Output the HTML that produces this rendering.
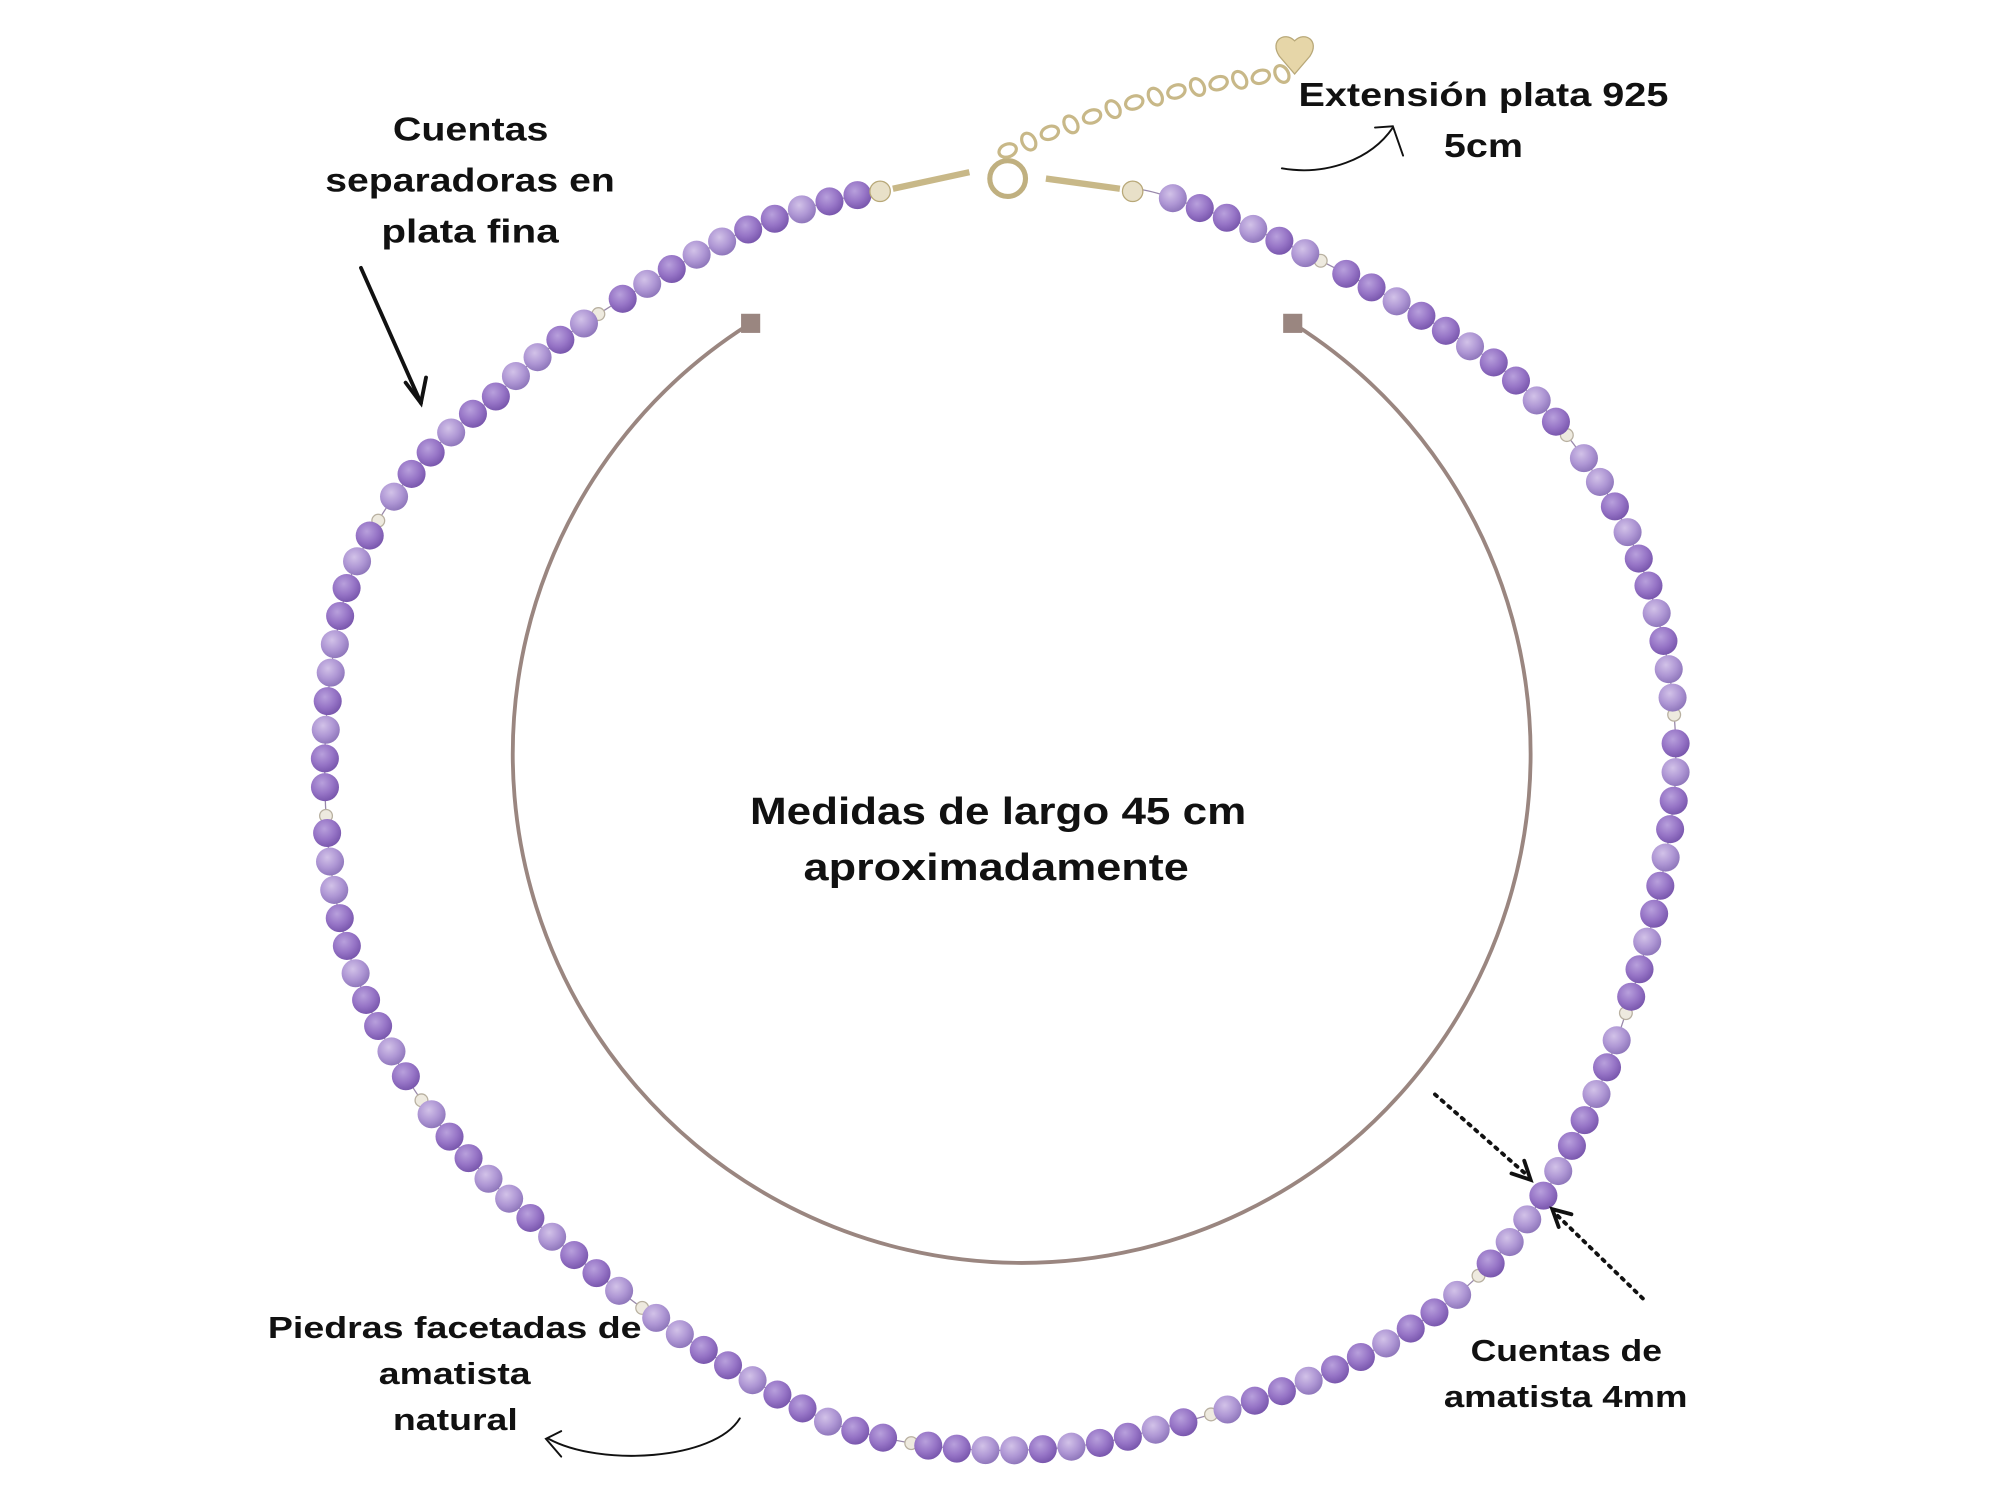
<!DOCTYPE html>
<html><head><meta charset="utf-8"><style>
html,body{margin:0;padding:0;background:#fff;width:2000px;height:1500px;overflow:hidden}
svg{display:block}
text{font-family:"Liberation Sans","DejaVu Sans",sans-serif;font-weight:bold;fill:#111}
</style></head><body>
<svg id="s" width="2000" height="1500" viewBox="0 0 1568 1176" preserveAspectRatio="none" xmlns="http://www.w3.org/2000/svg">
<defs>
<radialGradient id="bg" cx="40%" cy="35%" r="65%">
<stop offset="0" stop-color="#b8a0dc"/><stop offset="0.6" stop-color="#9674c6"/><stop offset="1" stop-color="#7a58ae"/>
</radialGradient>
<radialGradient id="bg2" cx="40%" cy="35%" r="65%">
<stop offset="0" stop-color="#d2c2e8"/><stop offset="0.6" stop-color="#ae96d4"/><stop offset="1" stop-color="#9078bc"/>
</radialGradient>
</defs>
<path d="M586,255 A399,399 0 1,0 1016,255" fill="none" stroke="#9a8680" stroke-width="3"/>
<rect x="581" y="246" width="15" height="15" fill="#9a8680"/>
<rect x="1006" y="246" width="15" height="15" fill="#9a8680"/>
<path id="chain" d="M690,150 C620,160 560,190 520,215 C470,245 420,275 390,310 C340,345 295,395 272,460 C254,530 252,600 257,660 C265,740 285,790 322,850 C360,910 420,960 470,1000 C520,1040 590,1085 650,1115 C720,1140 800,1142 870,1130 C950,1110 1050,1085 1130,1025 C1190,980 1225,920 1255,850 C1285,770 1305,700 1313,620 C1318,540 1300,460 1265,395 C1235,345 1200,300 1150,270 C1090,230 1010,190 960,170 C930,160 910,150 890,148" fill="none" stroke="#9988aa" stroke-width="1"/>
<g id="beads"></g>
<circle cx="690" cy="150" r="8" fill="#e8e0c8" stroke="#b8a878"/>
<circle cx="888" cy="150" r="8" fill="#e8e0c8" stroke="#b8a878"/>
<path d="M700,148 L760,135 M820,140 L878,148" stroke="#c8b888" stroke-width="5"/>
<circle cx="790" cy="140" r="14" fill="none" stroke="#c0b080" stroke-width="4"/>
<g fill="none" stroke="#c8b888" stroke-width="2.5" id="links"></g>
<path d="M1015,32 c-8,-8 -20,0 -12,12 l12,14 l12,-14 c8,-12 -4,-20 -12,-12z" fill="#e6d6a8" stroke="#b8a878"/>
<g font-size="26">
<text x="308" y="110" textLength="122" lengthAdjust="spacingAndGlyphs">Cuentas</text>
<text x="255" y="150" textLength="227" lengthAdjust="spacingAndGlyphs">separadoras en</text>
<text x="299" y="190" textLength="139" lengthAdjust="spacingAndGlyphs">plata fina</text>
<text x="1018" y="83" textLength="290" lengthAdjust="spacingAndGlyphs">Extensión plata 925</text>
<text x="1132" y="123" textLength="62" lengthAdjust="spacingAndGlyphs">5cm</text>
</g>
<text x="588" y="646" font-size="30" textLength="389" lengthAdjust="spacingAndGlyphs">Medidas de largo 45 cm</text>
<text x="630" y="690" font-size="30" textLength="302" lengthAdjust="spacingAndGlyphs">aproximadamente</text>
<text x="210" y="1049" font-size="24" textLength="293" lengthAdjust="spacingAndGlyphs">Piedras  facetadas de</text>
<text x="297" y="1085" font-size="24" textLength="119" lengthAdjust="spacingAndGlyphs">amatista</text>
<text x="308" y="1121" font-size="24" textLength="98" lengthAdjust="spacingAndGlyphs">natural</text>
<text x="1153" y="1067" font-size="24" textLength="150" lengthAdjust="spacingAndGlyphs">Cuentas de</text>
<text x="1132" y="1103" font-size="24" textLength="191" lengthAdjust="spacingAndGlyphs">amatista 4mm</text>
<g stroke="#111" fill="none" stroke-width="3" stroke-linecap="round">
<path d="M283,210 L330,316"/><path d="M318,300 L330,316 L334,296"/>
<path d="M1005,132 C1040,138 1075,125 1092,100" stroke-width="1.5"/><path d="M1078,100 L1092,99 L1100,122" stroke-width="1.5"/>
<path d="M580,1112 C560,1145 470,1150 430,1128" stroke-width="1.5"/><path d="M440,1122 L428,1128 L440,1142" stroke-width="1.5"/>
<path d="M1125,858 L1198,922" stroke-dasharray="2,5"/><path d="M1185,920 L1200,925 L1195,910"/>
<path d="M1288,1018 L1220,952" stroke-dasharray="2,5"/><path d="M1232,952 L1217,948 L1222,962"/>
</g>
</svg>
<script>
var p=document.getElementById('chain'),g=document.getElementById('beads'),L=p.getTotalLength(),ns='http://www.w3.org/2000/svg';
var n=0;
for(var d=18;d<L-10;d+=22.5){var pt=p.getPointAtLength(d);n++;
 if(n%11==0){var c=document.createElementNS(ns,'ellipse');c.setAttribute('cx',pt.x);c.setAttribute('cy',pt.y);c.setAttribute('rx',5);c.setAttribute('ry',5);c.setAttribute('fill','#eeeadf');c.setAttribute('stroke','#b8b0a0');g.appendChild(c);d-=9;continue;}
 var c=document.createElementNS(ns,'circle');c.setAttribute('cx',pt.x);c.setAttribute('cy',pt.y);c.setAttribute('r',11);c.setAttribute('fill',(n%3==0||n%7==0)?'url(#bg2)':'url(#bg)');g.appendChild(c);}
var lk=document.getElementById('links');
for(var i=0;i<14;i++){var t=i/13,x=790+t*215,y=118-t*60+Math.sin(t*3.14)*-10;var e=document.createElementNS(ns,'ellipse');e.setAttribute('cx',x);e.setAttribute('cy',y);e.setAttribute('rx',7);e.setAttribute('ry',5);e.setAttribute('transform','rotate('+(i%2?60:-20)+' '+x+' '+y+')');lk.appendChild(e);}
</script>
</body></html>
